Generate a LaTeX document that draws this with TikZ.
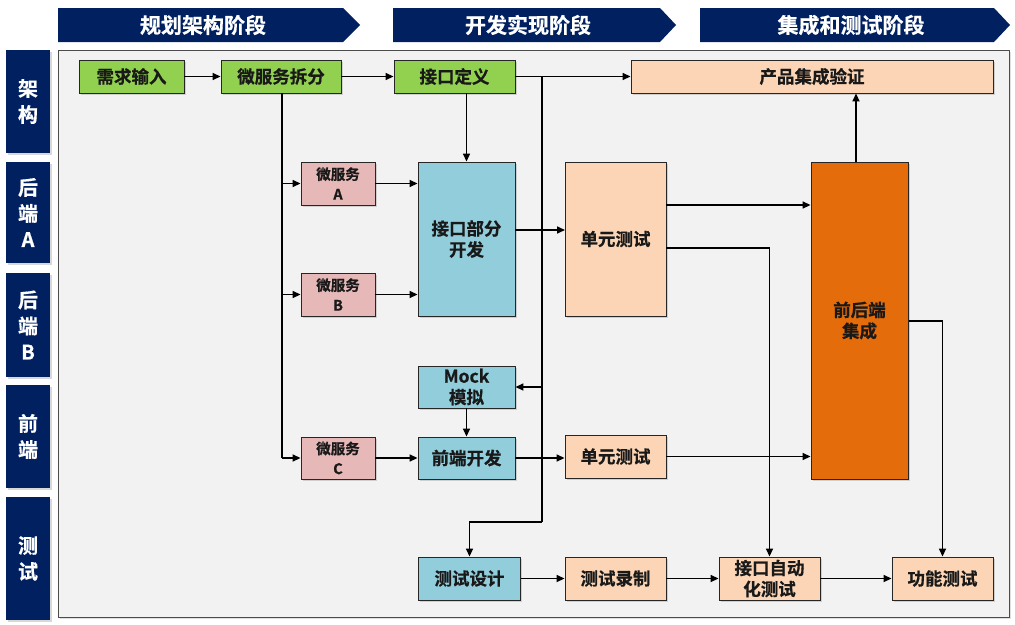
\documentclass[tikz,border=0pt]{standalone}
\usepackage{fontspec}
\setmainfont{Noto Sans CJK SC Bold}[FakeBold=0.6]
\usetikzlibrary{arrows.meta,shadows,calc}
\definecolor{navy}{HTML}{002060}
\definecolor{gr}{HTML}{92D050}
\definecolor{peach}{HTML}{FBD5B5}
\definecolor{pinkb}{HTML}{E6B9B8}
\definecolor{blueb}{HTML}{92CDDC}
\definecolor{orangeb}{HTML}{E46C0A}
\definecolor{panel}{HTML}{F2F2F2}
\tikzset{
  box/.style={draw=black!85, line width=0.9pt, inner sep=0pt, align=center,
     font=\fontsize{17.5}{21}\selectfont, text=black!90,
     drop shadow={shadow xshift=1.5pt, shadow yshift=-1.5pt, opacity=0.3}},
  ms/.style={box, fill=pinkb, font=\fontsize{14.5}{20}\selectfont},
  arr/.style={line width=1.6pt, -{Triangle[length=8pt,width=7pt]}},
  trunk/.style={line width=2.4pt},
  banner/.style={fill=navy, draw=none},
  bantext/.style={text=white, font=\fontsize{21}{24}\selectfont},
  rowlab/.style={fill=navy, draw=none, text=white, align=center,
     font=\fontsize{20}{26}\selectfont,
     drop shadow={shadow xshift=1.5pt, shadow yshift=-1.5pt, opacity=0.3}},
}
\begin{document}
\begin{tikzpicture}[x=1pt,y=-1pt]
\useasboundingbox[fill=white] (0,0) rectangle (1015,624);
% banners
\fill[banner] (58,8) -- (343,8) -- (360,25) -- (343,42) -- (58,42) -- cycle;
\fill[banner] (393,8) -- (660,8) -- (676,25) -- (660,42) -- (393,42) -- cycle;
\fill[banner] (700,8) -- (994,8) -- (1010,25) -- (994,42) -- (700,42) -- cycle;
\node[bantext] (b1) at (203,25) {规划架构阶段};
\node[bantext] (b2) at (528,25) {开发实现阶段};
\node[bantext] (b3) at (851,25) {集成和测试阶段};
% row labels
\node[rowlab, minimum width=44pt, minimum height=103pt] (r1) at (28,101.5) {架\\构};
\node[rowlab, minimum width=44pt, minimum height=101pt] (r2) at (28,212.5) {后\\端\\A};
\node[rowlab, minimum width=44pt, minimum height=104pt] (r3) at (28,325) {后\\端\\B};
\node[rowlab, minimum width=44pt, minimum height=103pt] (r4) at (28,436.5) {前\\端};
\node[rowlab, minimum width=44pt, minimum height=123pt] (r5) at (28,558.5) {测\\试};
% panel
\draw[fill=panel, draw=black!70, line width=0.8pt,
  drop shadow={shadow xshift=1.5pt, shadow yshift=-1.5pt, opacity=0.25}] (58,50) rectangle (1009,617);
% nodes
\node[box, fill=gr, minimum width=105pt, minimum height=33pt] (req) at (131.5,76.5) {需求输入};
\node[box, fill=gr, minimum width=120pt, minimum height=33pt] (split) at (281,76.5) {微服务拆分};
\node[box, fill=gr, minimum width=121pt, minimum height=33pt] (idef) at (454.5,76.5) {接口定义};
\node[box, fill=peach, minimum width=362pt, minimum height=33pt] (prod) at (812,76.5) {产品集成验证};
\node[ms, minimum width=74pt, minimum height=43pt] (msA) at (338,183.5) {微服务\\A};
\node[ms, minimum width=74pt, minimum height=43pt] (msB) at (338,294.5) {微服务\\B};
\node[ms, minimum width=74pt, minimum height=42pt] (msC) at (338,458) {微服务\\C};
\node[box, fill=blueb, minimum width=97pt, minimum height=154pt] (ifdev) at (466.5,239) {接口部分\\开发};
\node[box, fill=peach, minimum width=101pt, minimum height=154pt] (ut1) at (615.5,239) {单元测试};
\node[box, fill=orangeb, minimum width=97pt, minimum height=317pt] (integ) at (859.5,320.5) {前后端\\集成};
\node[box, fill=blueb, minimum width=97pt, minimum height=42pt] (mock) at (466.5,387) {Mock\\模拟};
\node[box, fill=blueb, minimum width=97pt, minimum height=42pt] (fedev) at (466.5,458) {前端开发};
\node[box, fill=peach, minimum width=101pt, minimum height=43pt] (ut2) at (615.5,456.5) {单元测试};
\node[box, fill=blueb, minimum width=102pt, minimum height=43pt] (tdes) at (469.5,578.5) {测试设计};
\node[box, fill=peach, minimum width=101pt, minimum height=43pt] (trec) at (615.5,578.5) {测试录制};
\node[box, fill=peach, minimum width=101pt, minimum height=43pt] (auto) at (769.5,578.5) {接口自动\\化测试};
\node[box, fill=peach, minimum width=101pt, minimum height=43pt] (func) at (942.5,578.5) {功能测试};
% helper coordinates
\coordinate (tk) at (282,93);
\coordinate (vtop) at (542,76.5);
\coordinate (vbot) at (542,522);
\coordinate (vturn) at (469.5,522);
\coordinate (vmock) at (542,387);
\coordinate (u1a) at (666,205);
\coordinate (u1b) at (666,248);
\coordinate (u1c) at (769.5,248);
\coordinate (ia) at (909,321);
\coordinate (ib) at (942.5,321);
\coordinate (ifo) at (515,230);
\coordinate (ifi) at (565,230);
\coordinate (upx) at (856,0);
% connectors
\draw[arr] (req) -- (split);
\draw[arr] (split) -- (idef);
\draw[arr] (idef) -- (prod);
\draw[arr] (idef.south -| ifdev.north) -- (ifdev.north);
\draw[trunk] (tk) -- (tk |- msC.west);
\draw[arr] (tk |- msA.west) -- (msA.west);
\draw[arr] (tk |- msB.west) -- (msB.west);
\draw[arr] (tk |- msC.west) -- (msC.west);
\draw[arr] (msA.east) -- (msA.east -| ifdev.west);
\draw[arr] (msB.east) -- (msB.east -| ifdev.west);
\draw[arr] (msC.east) -- (fedev.west);
\draw[trunk] (vtop) -- (vbot);
\draw[arr] (vbot) -- (vturn) -- (tdes.north);
\draw[arr] (vmock) -- (mock.east);
\draw[arr] (ifo) -- (ifi);
\draw[arr] (mock.south) -- (fedev.north);
\draw[arr] (fedev.east) -- (fedev.east -| ut2.west);
\draw[arr] (u1a) -- (u1a -| integ.west);
\draw[arr] (u1b) -- (u1c) -- (auto.north);
\draw[arr] (ut2.east) -- (ut2.east -| integ.west);
\draw[arr] (ia) -- (ib) -- (func.north);
\draw[arr] (integ.north -| upx) -- (prod.south -| upx);
\draw[arr] (tdes) -- (trec);
\draw[arr] (trec) -- (auto);
\draw[arr] (auto) -- (func);
\end{tikzpicture}
\end{document}
